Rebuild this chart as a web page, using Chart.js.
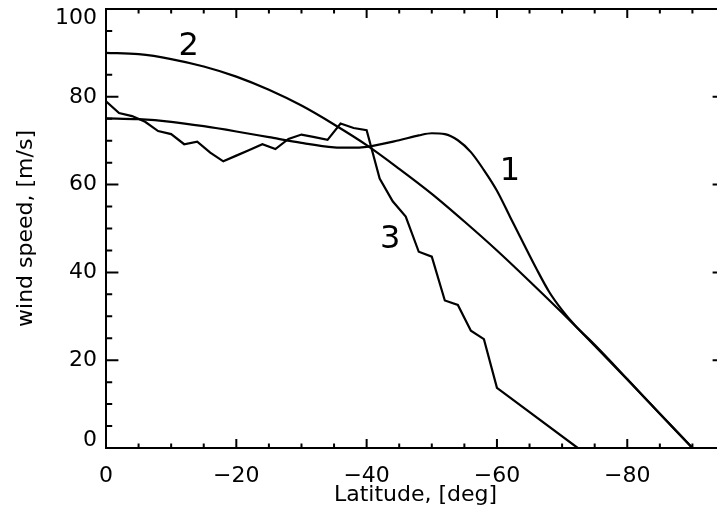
<!DOCTYPE html>
<html>
<head>
<meta charset="utf-8">
<script src="https://cdn.jsdelivr.net/npm/chart.js@4/dist/chart.umd.min.js"></script>
<style>
  html, body { margin: 0; padding: 0; background: #fff; overflow: hidden; }
  #wrap { width: 740px; height: 520px; }
</style>
</head>
<body>
<div id="wrap"><canvas id="windChart" width="740" height="520"></canvas></div>
<script>
// curve 1
const lat1 = [0, -5, -10, -15, -20, -25, -30, -35, -37.5, -40, -45, -48, -50, -52, -54, -56, -58, -60, -62, -64, -66, -68, -70, -72, -75, -80, -85, -90];
const speed1 = [75.1, 74.9, 74.3, 73.3, 72.1, 70.8, 69.5, 68.5, 68.4, 68.6, 70.1, 71.2, 71.7, 71.5, 70.1, 67.4, 63.3, 58.6, 52.7, 46.8, 41.0, 35.6, 31.4, 27.9, 23.5, 15.7, 7.8, 0];
// curve 2
const lat2 = [0, -5, -10, -15, -20, -25, -30, -35, -40, -45, -50, -55, -60, -65, -70, -75, -80, -85, -90];
const speed2 = [90, 89.7, 88.6, 86.9, 84.6, 81.6, 78, 73.7, 69, 63.6, 57.9, 51.6, 45, 38, 30.8, 23.3, 15.6, 7.8, 0];
// curve 3 (observed)
const lat3 = [0, -2, -4, -6, -8, -10, -12, -14, -16, -18, -20, -22, -24, -26, -28, -30, -32, -34, -36, -38, -40, -42, -44, -46, -48, -50, -52, -54, -56, -58, -60, -72.4];
const speed3 = [79.0, 76.3, 75.6, 74.3, 72.2, 71.5, 69.2, 69.8, 67.3, 65.3, 66.6, 67.9, 69.2, 68.1, 70.4, 71.4, 70.8, 70.2, 73.9, 72.9, 72.4, 61.4, 56.2, 52.7, 44.7, 43.6, 33.6, 32.6, 26.7, 24.8, 13.7, 0];

const xTicks = [0, -20, -40, -60, -80];
const yTicks = [0, 20, 40, 60, 80, 100];
const curveNames = ['1', '2', '3'];
const curveLabelLat = [-62, -12.7, -43.6];
const curveLabelSpeed = [62.9, 91.4, 47.4];

const FONT = 'DejaVu Sans';
Chart.defaults.font.family = FONT;
Chart.defaults.color = '#000';

function pairs(xs, ys) {
	return xs.map((x, i) => ({ x: x, y: ys[i] }));
}

// IDL-style box with inward ticks, y labels and curve numbers
const idlAxes = {
	id: 'idlAxes',
	afterDraw(chart) {
		const ctx = chart.ctx;
		const a = chart.chartArea;
		const xs = chart.scales.x;
		const ys = chart.scales.y;
		ctx.save();
		ctx.strokeStyle = '#000';
		ctx.lineWidth = 2;
		ctx.strokeRect(a.left, a.top, a.right - a.left, a.bottom - a.top);

		ctx.beginPath();
		for (let v = 0; v >= -95; v -= 5) {
			const px = xs.getPixelForValue(v);
			const len = v % 20 === 0 ? 9 : 4.5;
			ctx.moveTo(px, a.bottom);
			ctx.lineTo(px, a.bottom - len);
			ctx.moveTo(px, a.top);
			ctx.lineTo(px, a.top + len);
		}
		for (let v = 0; v <= 100; v += 5) {
			const py = ys.getPixelForValue(v);
			const len = v % 20 === 0 ? 12.4 : 6.2;
			ctx.moveTo(a.left, py);
			ctx.lineTo(a.left + len, py);
			ctx.moveTo(a.right, py);
			ctx.lineTo(a.right - len, py);
		}
		ctx.stroke();

		ctx.fillStyle = '#000';
		ctx.font = '22px "' + FONT + '"';
		ctx.textAlign = 'right';
		ctx.textBaseline = 'middle';
		yTicks.forEach((v) => {
			let py = ys.getPixelForValue(v);
			py = Math.min(Math.max(py, a.top + 9), a.bottom - 8);
			ctx.fillText(String(v), a.left - 9, py);
		});

		ctx.font = '32px "' + FONT + '"';
		ctx.textAlign = 'center';
		curveNames.forEach((name, i) => {
			ctx.fillText(name, xs.getPixelForValue(curveLabelLat[i]), ys.getPixelForValue(curveLabelSpeed[i]));
		});
		ctx.restore();
	},
};

const lineStyle = {
	borderColor: '#000',
	borderWidth: 2.2,
	pointRadius: 0,
	fill: false,
};

new Chart(document.getElementById('windChart'), {
	type: 'line',
	data: {
		datasets: [
			Object.assign({ label: '1', data: pairs(lat1, speed1), cubicInterpolationMode: 'monotone' }, lineStyle),
			Object.assign({ label: '2', data: pairs(lat2, speed2), cubicInterpolationMode: 'monotone' }, lineStyle),
			Object.assign({ label: '3', data: pairs(lat3, speed3), tension: 0 }, lineStyle),
		],
	},
	options: {
		responsive: false,
		animation: false,
		devicePixelRatio: 1,
		layout: { padding: { top: 9, right: 15, left: 0, bottom: 0 } },
		plugins: {
			legend: { display: false },
			tooltip: { enabled: false },
		},
		scales: {
			x: {
				type: 'linear',
				min: -95,
				max: 0,
				reverse: true,
				grid: { display: false },
				border: { display: false },
				afterBuildTicks: (scale) => {
					scale.ticks = xTicks.map((v) => ({ value: v }));
				},
				afterFit: (scale) => {
					scale.height = 72;
				},
				ticks: {
					font: { size: 22 },
					padding: 7,
					maxRotation: 0,
					callback: (v) => (v === 0 ? '0' : '\u2212' + Math.abs(v)),
				},
				title: {
					display: true,
					text: 'Latitude, [deg]',
					font: { size: 22 },
					padding: { bottom: 12, top: 0 },
				},
			},
			y: {
				type: 'linear',
				min: 0,
				max: 100,
				grid: { display: false },
				border: { display: false },
				afterFit: (scale) => {
					scale.width = 106;
				},
				ticks: { display: false },
				title: {
					display: true,
					text: 'wind speed, [m/s]',
					font: { size: 22 },
					padding: { top: 13, bottom: 0 },
				},
			},
		},
	},
	plugins: [idlAxes],
});
</script>
</body>
</html>
